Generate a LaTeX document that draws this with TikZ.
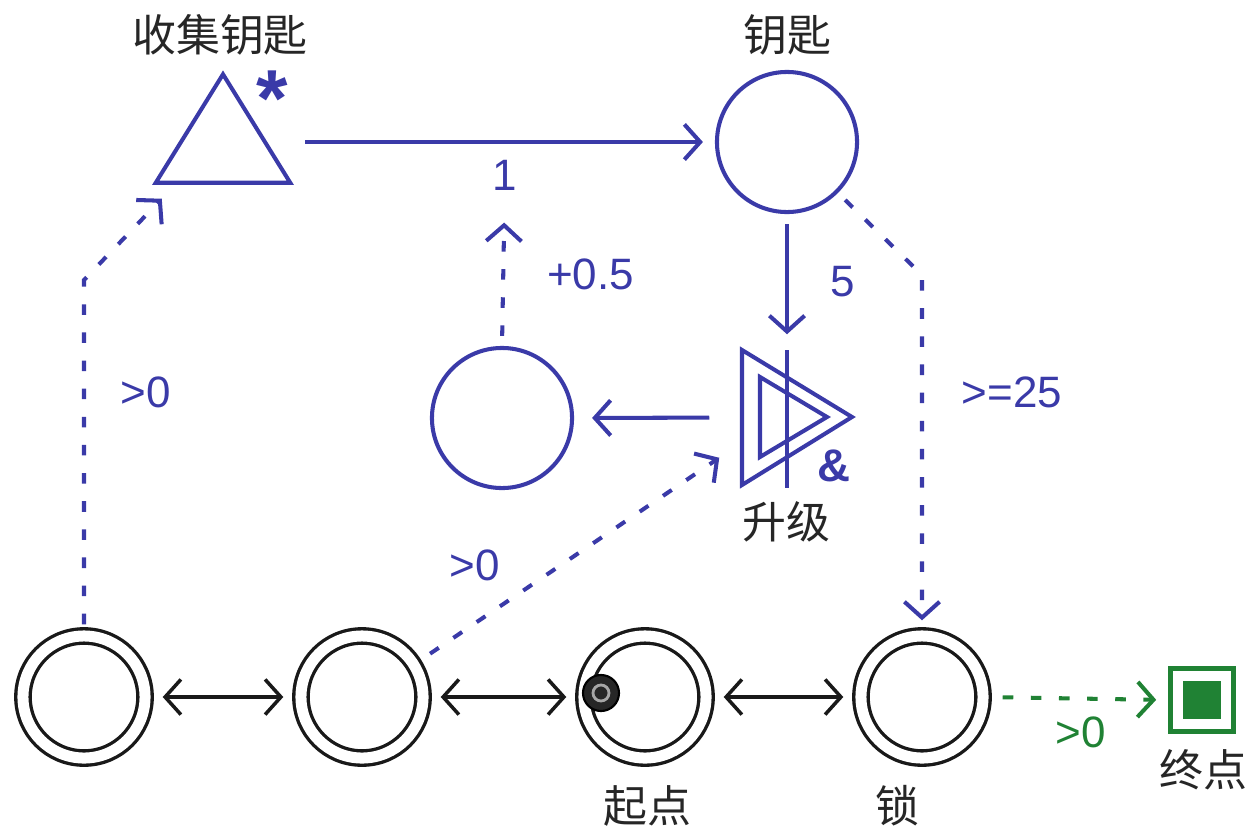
\documentclass[tikz,border=0pt]{standalone}
\usepackage{fontspec}
\setmainfont{Liberation Sans}
\newfontfamily\cjk{Noto Sans CJK SC}
\usetikzlibrary{arrows.meta}
\definecolor{keyblue}{RGB}{58,58,168}
\definecolor{exitgreen}{RGB}{32,130,52}
\definecolor{inkgray}{RGB}{38,38,38}
\begin{document}
\begin{tikzpicture}[
        x=0.01cm, y=-0.01cm,
        >={Straight Barb[length=4.5pt,width=10pt]},
        numlabel/.style={font=\fontsize{12.5}{14}\selectfont, text=keyblue},
        cnlabel/.style={font=\cjk\fontsize{12.5}{14}\selectfont, text=inkgray},
        room/.style={circle, draw=black!90, line width=0.95pt, double, double distance=0.11cm, minimum size=1.22cm, inner sep=0pt},
        bluering/.style={circle, draw=keyblue, line width=1.15pt, minimum size=1.4cm, inner sep=0pt},
        link/.style={<->, line width=1pt, black!90, shorten <=0.16cm, shorten >=0.16cm},
        flow/.style={->, line width=1.15pt, keyblue},
        cond/.style={->, line width=1.15pt, keyblue, dash pattern=on 3pt off 5pt}
    ]
        \useasboundingbox (0,0) rectangle (1257,830);

        % top row
        \node[minimum width=1.33cm, minimum height=1.07cm, inner sep=0pt] (collect) at (223,128.5) {};
        \draw[keyblue, line width=1.15pt, line join=miter] (collect.south west) -- (collect.north) -- (collect.south east) -- cycle;
        \node[font=\bfseries\fontsize{23}{23}\selectfont, text=keyblue, inner sep=0pt] (star) at (272,99) {*};
        \node[cnlabel] (collecttxt) at (220,35) {收集钥匙};

        \node[bluering] (key) at (787,142) {};
        \node[cnlabel] (keytxt) at (787,35) {钥匙};

        % middle row
        \node[minimum width=1.10cm, minimum height=1.35cm, inner sep=0pt] (upgrade) at (797,417.5) {};
        \draw[keyblue, line width=1.15pt] (742,350) -- (852,417) -- (742,485) -- cycle;
        \draw[keyblue, line width=1.15pt] (760,377) -- (827,417) -- (760,457) -- cycle;
        \draw[keyblue, line width=1.15pt] (787,350) -- (787,488);
        \node[font=\bfseries\fontsize{13}{14}\selectfont, text=keyblue] (amp) at (834,466) {\&};
        \node[cnlabel] (upgradetxt) at (786,522) {升级};

        \node[bluering] (bonus) at (502,418) {};
        \node[numlabel] (one) at (505,175) {1};

        % bottom row
        \node[room] (room1) at (84,697) {};
        \node[room] (room2) at (362,697) {};
        \node[room] (room3) at (645,697) {};
        \node[room] (lock) at (922,697) {};
        \node[circle, fill=black!85, draw=black, line width=0.6pt, minimum size=0.36cm, inner sep=0pt] (startdot) at (601,693) {};
        \draw[gray!70, line width=0.8pt] (startdot) circle (8);
        \node[cnlabel] (starttxt) at (647,806) {起点};
        \node[cnlabel] (locktxt) at (897,806) {锁};

        \node[draw=exitgreen, line width=1.3pt, minimum size=0.63cm, inner sep=0pt] (exit) at (1202,700) {};
        \fill[exitgreen] ([shift={(-19,-19)}]exit.center) rectangle ++(38,38);
        \node[cnlabel] (exittxt) at (1203,770) {终点};

        % connectors
        \draw[link] (room1) -- (room2);
        \draw[link] (room2) -- (room3);
        \draw[link] (room3) -- (lock);

        \draw[flow, shorten <=0.15cm, shorten >=0.12cm] (collect.east |- key.west) -- (key.west);
        \draw[flow, shorten <=0.1cm, shorten >=0.15cm] (key.south) -- node[numlabel, right=0.3cm] {5} (upgrade.north -| key.south);
        \draw[flow, shorten <=0.32cm, shorten >=0.18cm] (upgrade.west) -- (bonus.east);

        \draw[cond, shorten <=0.1cm, shorten >=0.2cm] (bonus.north) -- node[numlabel, right=0.3cm] {+0.5} (one);
        \draw[cond, shorten <=0.1cm] (room1.north) -- (84,280) -- ([shift={(6,16)}]collect.south west);
        \node[numlabel] (gt1) at (146,392) {>0};
        \draw[cond, shorten <=0.18cm] (room2.32) -- ([shift={(-22,-28)}]upgrade.south west);
        \node[numlabel] (gt2) at (475,565) {>0};
        \draw[cond, shorten <=0.1cm, shorten >=0.14cm] (key.-45) -- (lock.north |- 0,275) -- (lock.north);
        \node[numlabel] (ge25) at (1012,392) {>=25};

        \draw[->, line width=1.15pt, exitgreen, dash pattern=on 3pt off 5pt, shorten <=0.18cm, shorten >=0.12cm] (lock.east) -- (exit.west);
        \node[numlabel, text=exitgreen] (gt3) at (1081,732) {>0};
\end{tikzpicture}
\end{document}
